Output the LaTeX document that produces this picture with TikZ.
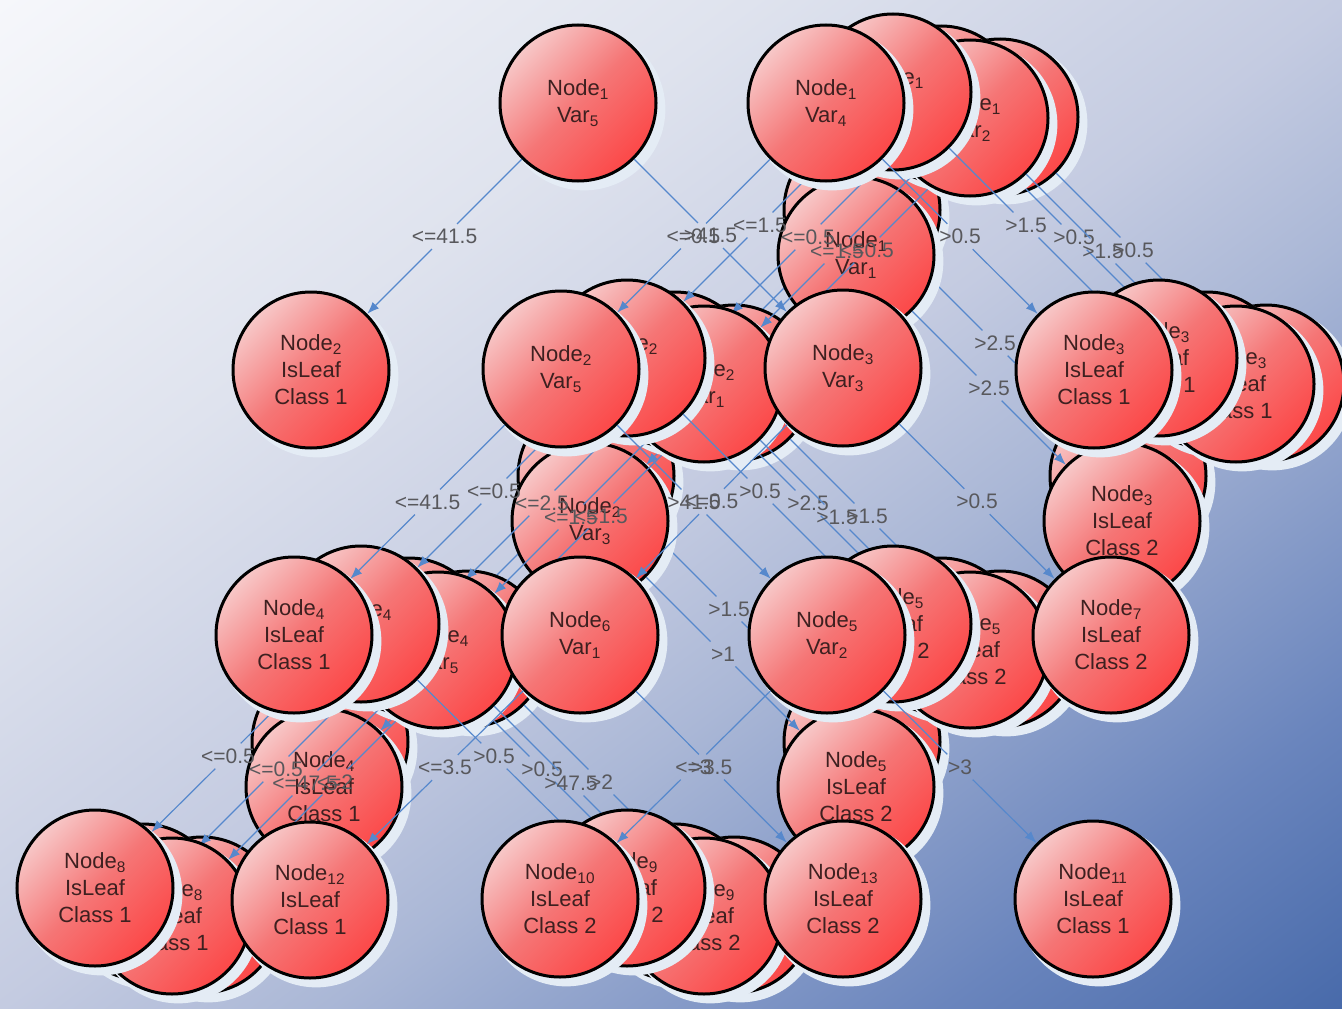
\documentclass[tikz,border=0pt]{standalone}
\usepackage{fontspec}
\setmainfont{Liberation Sans}
\usetikzlibrary{arrows.meta,shadows}

% backdrop colours, from the lower right corner to the upper left one
\definecolor{bga}{RGB}{72,106,170}
\definecolor{bgb}{RGB}{106,133,189}
\definecolor{bgc}{RGB}{170,183,214}
\definecolor{bgd}{RGB}{196,203,225}
\definecolor{bge}{RGB}{223,227,238}
\definecolor{bgf}{RGB}{246,247,251}
\pgfdeclareverticalshading{backdrop}{100bp}{color(0bp)=(bga); color(25bp)=(bga);
  color(32.5bp)=(bgb); color(44bp)=(bgc); color(50bp)=(bgd); color(61bp)=(bge);
  color(75bp)=(bgf); color(100bp)=(bgf)}

\definecolor{balllight}{RGB}{247,200,200}
\definecolor{ballmid}{RGB}{245,118,118}
\definecolor{balldark}{RGB}{252,72,72}
\definecolor{halo}{RGB}{228,236,245}
\definecolor{linkblue}{RGB}{86,136,204}
\definecolor{lbltext}{RGB}{88,88,92}
\definecolor{balltext}{RGB}{62,32,32}

\tikzset{
  ball/.style={circle, draw=black, line width=3pt, minimum size=156pt, inner sep=0pt,
    top color=balllight, bottom color=balldark, middle color=ballmid, shading angle=45,
    general shadow={fill=halo, shadow scale=1.04, shadow xshift=6pt, shadow yshift=-6pt},
    text=balltext, font=\fontsize{22}{27}\selectfont, align=center},
  lbl/.style={text=lbltext, font=\fontsize{21}{24}\selectfont, inner sep=5pt},
  link/.style={draw=linkblue, line width=1.2pt},
  tip/.style={-{Latex[length=12pt,width=9pt]}},
}

% a tree node: name, x, y (pixels, downwards), text
\newcommand\tball[4]{\node[ball] (#1) at (#2,-#3) {#4};}
% a split: parent, child, name of the label, label text
\newcommand\tlink[4]{%
  \path (#1) -- node[lbl] (#3) {#4} (#2);
  \draw[link] (#1) -- (#3);
  \draw[link,tip] (#3) -- (#2);}
\newcommand\nd[1]{Node\textsubscript{#1}}
\newcommand\vr[1]{Var\textsubscript{#1}}
\newcommand\lf[2]{\nd{#1}\\IsLeaf\\Class #2}

\begin{document}
\begin{tikzpicture}[x=1pt,y=1pt]
\useasboundingbox (0,0) rectangle (1342,-1009);
% diagonal backdrop: the shading runs from the upper left to the lower right corner
\begin{scope}
  \clip (0,0) rectangle (1342,-1009);
  \shade[shading=backdrop, transform canvas={rotate around={36.87:(671,-504.5)}}]
    (-529,-1310.7) rectangle (1871,301.7);
\end{scope}

% tree H
\tball{H1}{862}{210}{\nd{1}\\\vr{1}}
\tball{H2}{596}{476}{\nd{2}\\\vr{3}}
\tball{H3}{1128}{476}{\lf{3}{2}}
\tball{H4}{330}{742}{\lf{4}{1}}
\tball{H5}{862}{742}{\lf{5}{2}}
\tlink{H1}{H2}{hl12}{<=2.5}
\tlink{H1}{H3}{hl13}{>2.5}
\tlink{H2}{H4}{hl24}{<=1.5}
\tlink{H2}{H5}{hl25}{>1.5}

% tree F
\tball{F1}{856}{255}{\nd{1}\\\vr{1}}
\tball{F2}{590}{521}{\nd{2}\\\vr{3}}
\tball{F3}{1122}{521}{\lf{3}{2}}
\tball{F4}{324}{787}{\lf{4}{1}}
\tball{F5}{856}{787}{\lf{5}{2}}
\tlink{F1}{F2}{fl12}{<=2.5}
\tlink{F1}{F3}{fl13}{>2.5}
\tlink{F2}{F4}{fl24}{<=1}
\tlink{F2}{F5}{fl25}{>1}

% tree G
\tball{G1}{1000}{117}{\nd{1}\\\vr{2}}
\tball{G2}{734}{383}{\nd{2}\\\vr{1}}
\tball{G3}{1266}{383}{\lf{3}{1}}
\tball{G4}{468}{649}{\nd{4}\\\vr{5}}
\tball{G5}{1000}{649}{\lf{5}{2}}
\tball{G8}{202}{915}{\lf{8}{1}}
\tball{G9}{734}{915}{\lf{9}{2}}
\tlink{G1}{G2}{gl12}{<=0.5}
\tlink{G1}{G3}{gl13}{>0.5}
\tlink{G2}{G4}{gl24}{<=1.5}
\tlink{G2}{G5}{gl25}{>1.5}
\tlink{G4}{G8}{gl48}{<=2}
\tlink{G4}{G9}{gl49}{>2}

% tree E
\tball{E1}{941}{104}{\nd{1}\\\vr{2}}
\tball{E2}{675}{370}{\nd{2}\\\vr{1}}
\tball{E3}{1207}{370}{\lf{3}{1}}
\tball{E4}{409}{636}{\nd{4}\\\vr{5}}
\tball{E5}{941}{636}{\lf{5}{2}}
\tball{E8}{143}{902}{\lf{8}{1}}
\tball{E9}{675}{902}{\lf{9}{2}}
\tlink{E1}{E2}{el12}{<=0.5}
\tlink{E1}{E3}{el13}{>0.5}
\tlink{E2}{E4}{el24}{<=2.5}
\tlink{E2}{E5}{el25}{>2.5}
\tlink{E4}{E8}{el48}{<=0.5}
\tlink{E4}{E9}{el49}{>0.5}

% tree D
\tball{D1}{970}{118}{\nd{1}\\\vr{2}}
\tball{D2}{704}{384}{\nd{2}\\\vr{1}}
\tball{D3}{1236}{384}{\lf{3}{1}}
\tball{D4}{438}{650}{\nd{4}\\\vr{5}}
\tball{D5}{970}{650}{\lf{5}{2}}
\tball{D8}{172}{916}{\lf{8}{1}}
\tball{D9}{704}{916}{\lf{9}{2}}
\tlink{D1}{D2}{dl12}{<=1.5}
\tlink{D1}{D3}{dl13}{>1.5}
\tlink{D2}{D4}{dl24}{<=1.5}
\tlink{D2}{D5}{dl25}{>1.5}
\tlink{D4}{D8}{dl48}{<=47.5}
\tlink{D4}{D9}{dl49}{>47.5}

% tree C
\tball{C1}{893}{92}{\nd{1}\\\vr{3}}
\tball{C2}{627}{358}{\nd{2}\\\vr{4}}
\tball{C3}{1159}{358}{\lf{3}{1}}
\tball{C4}{361}{624}{\nd{4}\\\vr{1}}
\tball{C5}{893}{624}{\lf{5}{2}}
\tball{C8}{95}{888}{\lf{8}{1}}
\tball{C9}{627}{888}{\lf{9}{2}}
\tlink{C1}{C2}{cl12}{<=1.5}
\tlink{C1}{C3}{cl13}{>1.5}
\tlink{C2}{C4}{cl24}{<=0.5}
\tlink{C2}{C5}{cl25}{>0.5}
\tlink{C4}{C8}{cl48}{<=0.5}
\tlink{C4}{C9}{cl49}{>0.5}

% tree B
\tball{B1}{826}{103}{\nd{1}\\\vr{4}}
\tball{B2}{561}{369}{\nd{2}\\\vr{5}}
\tball{B3}{1094}{370}{\lf{3}{1}}
\tball{B4}{294}{635}{\lf{4}{1}}
\tball{B5}{827}{635}{\nd{5}\\\vr{2}}
\tball{B10}{560}{899}{\lf{10}{2}}
\tball{B11}{1093}{899}{\lf{11}{1}}
\tlink{B1}{B2}{bl12}{<=0.5}
\tlink{B1}{B3}{bl13}{>0.5}
\tlink{B2}{B4}{bl24}{<=41.5}
\tlink{B2}{B5}{bl25}{>41.5}
\tlink{B5}{B10}{bl510}{<=3}
\tlink{B5}{B11}{bl511}{>3}

% tree A
\tball{A1}{578}{103}{\nd{1}\\\vr{5}}
\tball{A2}{311}{370}{\lf{2}{1}}
\tball{A3}{843}{368}{\nd{3}\\\vr{3}}
\tball{A6}{580}{635}{\nd{6}\\\vr{1}}
\tball{A7}{1111}{635}{\lf{7}{2}}
\tball{A12}{310}{900}{\lf{12}{1}}
\tball{A13}{843}{899}{\lf{13}{2}}
\tlink{A1}{A2}{al12}{<=41.5}
\tlink{A1}{A3}{al13}{>41.5}
\tlink{A3}{A6}{al36}{<=0.5}
\tlink{A3}{A7}{al37}{>0.5}
\tlink{A6}{A12}{al612}{<=3.5}
\tlink{A6}{A13}{al613}{>3.5}
\end{tikzpicture}
\end{document}
